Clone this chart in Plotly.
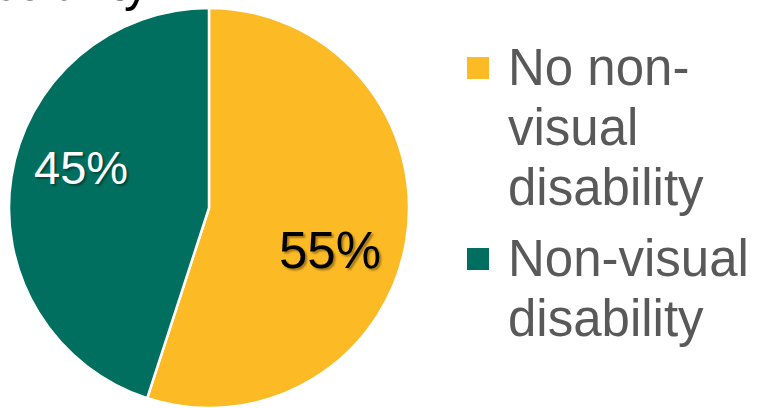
import plotly.graph_objects as go

# Share of respondents by disability status
categories = ["No non-visual disability", "Non-visual disability"]
legend_lines = [["No non-", "visual", "disability"], ["Non-visual", "disability"]]
values = [55, 45]
colors = ["#FCBA24", "#006F5F"]

W, H = 759, 408


def px_x(x):
    return x / W


def px_y(y):
    return 1 - y / H


fig = go.Figure(
    go.Pie(
        labels=categories,
        values=values,
        sort=False,
        direction="clockwise",
        rotation=0,
        marker=dict(colors=colors, line=dict(color="white", width=2.5)),
        textinfo="none",
        hoverinfo="label+percent",
        showlegend=False,
        domain=dict(x=[px_x(8), px_x(410)], y=[0, px_y(8)]),
    )
)

annotations = []

# percentage labels inside the slices
label_pos = [(330, 250, "black", 51), (81, 167, "white", 47)]
for v, (cx, cy, col, sz) in zip(values, label_pos):
    annotations.append(
        dict(
            text=f"{v}%", x=px_x(cx), y=px_y(cy), xref="paper", yref="paper",
            xanchor="center", yanchor="middle", showarrow=False,
            font=dict(family="Arial, Liberation Sans", size=sz, color=col,
                      shadow="2px 2px 2px rgba(0,0,0,0.35)"),
        )
    )

# heading running off the top edge
annotations.append(
    dict(
        text="disability", x=px_x(-48), y=1, xref="paper", yref="paper",
        xanchor="left", yanchor="bottom", yshift=-13, showarrow=False,
        font=dict(family="Arial, Liberation Sans", size=51, color="black"),
    )
)

# custom legend: large squares and wrapped labels
shapes = []
square_tops = [57, 248]
baselines = [[86, 146, 206], [277, 337]]
for col, top, lines, bases in zip(colors, square_tops, legend_lines, baselines):
    shapes.append(
        dict(type="rect", xref="paper", yref="paper",
             x0=px_x(467), x1=px_x(489), y0=px_y(top), y1=px_y(top + 22),
             fillcolor=col, line=dict(width=0))
    )
    for line, base in zip(lines, bases):
        annotations.append(
            dict(
                text=line, x=px_x(506), y=px_y(base), xref="paper", yref="paper",
                xanchor="left", yanchor="bottom", yshift=-12, showarrow=False,
                font=dict(family="Arial, Liberation Sans", size=51, color="#595959"),
            )
        )

fig.update_layout(
    width=W,
    height=H,
    margin=dict(l=0, r=0, t=0, b=0),
    paper_bgcolor="white",
    plot_bgcolor="white",
    annotations=annotations,
    shapes=shapes,
)

fig.write_html("out.html")
